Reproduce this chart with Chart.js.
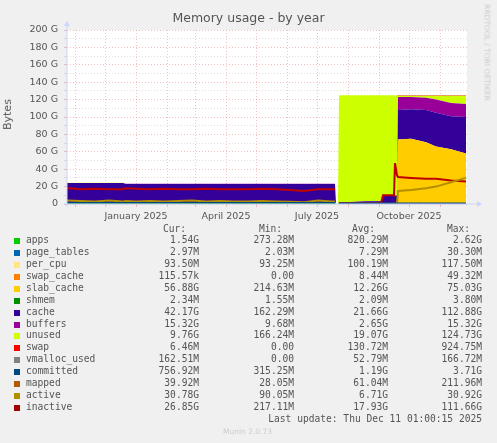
<!DOCTYPE html>
<html>
<head>
<meta charset="utf-8">
<script src="https://cdn.jsdelivr.net/npm/chart.js@4"></script>
<style>
  body { margin: 0; background: #f0f0f0; width: 497px; height: 443px; overflow: hidden; position: relative; font-family: "DejaVu Sans", sans-serif; }
  #wrap { position: absolute; left: 0; top: 1px; width: 497px; height: 226px; }
  .abs { position: absolute; white-space: pre; }
  .mono { font-family: "DejaVu Sans Mono", monospace; font-size: 9.6px; color: #555; }
  .sw { position: absolute; width: 6px; height: 6px; }
</style>
</head>
<body>
<div id="wrap"><canvas id="memChart" width="497" height="226"></canvas></div>
<div class="abs" style="left:0;width:497px;text-align:center;top:10px;font-size:12.5px;color:#555;">Memory usage - by year</div>
<div class="abs" style="left:-8px;top:108px;font-size:11px;color:#555;transform:rotate(-90deg);">Bytes</div>
<div id="rrd" class="abs" style="top:48px;font-size:7.5px;color:#ccc;transform:translateX(-50%) rotate(90deg);left:487px;">RRDTOOL / TOBI OETIKER</div>
<div id="legend"></div>
<script>
// x positions in days relative to 2025-01-01
const days = [-69,-55,-41,-27,-13,-10,0,14,28,42,56,70,84,98,112,126,140,154,168,182,196,199,200,202,203,215,230,245,247,258,259,261,262,275,290,300,315,330];

// stacked areas (GB)
const apps      = [1.5,1.5,1.5,1.5,1.5,1.5,1.5,1.5,1.5,1.5,1.5,1.5,1.5,1.5,1.5,1.5,1.5,1.5,1.5,1.5,1.5,1.5, 0,0, 0.5,0.5,0.5,0.5,0.5,0.5,0.5,0.5, 1,1,1,1,1,1];
const slabCache = [0.5,0.5,0.5,0.5,0.5,0.5,0.5,0.5,0.5,0.5,0.5,0.5,0.5,0.5,0.5,0.5,0.5,0.5,0.5,0.5,0.5,0.5, 0,0, 0.3,0.3,0.3,0.3,0.3,0.3,0.3,0.3, 73,74,70,65,62,57];
const cache     = [22,22,22,22,22,21,21,21,21,21,21,21,21,21,21,21,21,21,21,21,21,21, 0,0, 1,1.5,2.5,2.5,9,9,9,9, 34,34,37,39,38,42];
const buffers   = [0.2,0.2,0.2,0.2,0.2,0.2,0.2,0.2,0.2,0.2,0.2,0.2,0.2,0.2,0.2,0.2,0.2,0.2,0.2,0.2,0.2,0.2, 0,0, 0.1,0.1,0.1,0.1,0.1,0.1,0.1,0.1, 15,14,14,15,15,15];
const unused    = [0.2,0.2,0.2,0.2,0.2,0.2,0.2,0.2,0.2,0.2,0.2,0.2,0.2,0.2,0.2,0.2,0.2,0.2,0.2,0.2,0.2,0.2, 0,0, 123,122.6,121.6,121.6,115,115,115,115, 1.5,1.5,2.5,4.5,8.5,9.5];
const swap      = [0,0,0,0,0,0,0,0,0,0,0,0,0,0,0,0,0,0,0,0,0,0, 0,0, 0,0,0,0,0,0,0,0, 0.6,0.6,0.6,0.6,0.6,0.6];

// lines (GB)
const committed = [1.5,1.5,1.5,1.5,1.5,1.5,1.5,1.5,1.5,1.5,1.5,1.5,1.5,1.5,1.5,1.5,1.5,1.5,1.5,1.5,1.5,1.5, null,null, 0.8,0.8,0.8,0.8,0.8,0.8,0.8,0.8, 0.8,0.8,0.8,0.8,0.8,0.8];
const active    = [4,3.5,3,4,3,3.5,3,3.5,3,3.5,4,3,3.5,3,3,3.5,3,2.5,2,4,3,3, null,null, 0.3,0.3,0.3,0.3,0.3,0.3,0.5,0.5, 15,16,18,20,25,30];
const inactive  = [18,17,17.5,17,17,18,17.5,17,17.5,17,17,17.5,17,17,17,17.5,17,16,15,17,17,17, null,null, 1,1,1,1,10,10,47,33, 31,30,29,29,27,26];

// axis ticks
const monthTicks = [-61,-31,0,31,59,90,120,151,181,212,243,273,304];
const quarterLabels = { 0: 'January 2025', 90: 'April 2025', 181: 'July 2025', 273: 'October 2025' };

// legend table
const legendNames  = ['apps','page_tables','per_cpu','swap_cache','slab_cache','shmem','cache','buffers','unused','swap','vmalloc_used','committed','mapped','active','inactive'];
const legendColors = ['#00cc00','#0066b3','#ffe680','#ff8000','#ffcc00','#008f00','#330099','#990099','#ccff00','#ff0000','#808080','#00487d','#b35a00','#b38f00','#a00000'];
const legendCur = ['1.54G','2.97M','93.50M','115.57k','56.88G','2.34M','42.17G','15.32G','9.76G','6.46M','162.51M','756.92M','39.92M','30.78G','26.85G'];
const legendMin = ['273.28M','2.03M','93.25M','0.00','214.63M','1.55M','162.29M','9.68M','166.24M','0.00','0.00','315.25M','28.05M','90.05M','217.11M'];
const legendAvg = ['820.29M','7.29M','100.19M','8.44M','12.26G','2.09M','21.66G','2.65G','19.07G','130.72M','52.79M','1.19G','61.04M','6.71G','17.93G'];
const legendMax = ['2.62G','30.30M','117.50M','49.32M','75.03G','3.80M','112.88G','15.32G','124.73G','924.75M','166.72M','3.71G','211.96M','30.92G','111.66G'];

const toPts = (arr) => arr.map((v, i) => ({ x: days[i], y: v }));

const area = (label, arr, color, first) => ({
    label, data: toPts(arr), backgroundColor: color, borderColor: color, order: 10,
    borderWidth: 0, pointRadius: 0, fill: first ? 'origin' : '-1', stack: 'mem', tension: 0
});
const line = (label, arr, color, width) => ({
    label, data: toPts(arr), borderColor: color, backgroundColor: color, order: 0,
    borderWidth: width, pointRadius: 0, fill: false, stack: label, spanGaps: false, tension: 0
});

const plotBg = {
    id: 'plotBg',
    beforeDraw(chart) {
        const { ctx, chartArea: a } = chart;
        ctx.save();
        ctx.fillStyle = '#ffffff';
        ctx.fillRect(a.left, a.top, a.right - a.left, a.bottom - a.top);
        ctx.restore();
    },
    afterDraw(chart) {
        const { ctx, chartArea: a } = chart;
        ctx.save();
        ctx.strokeStyle = '#ccd4ff';
        ctx.fillStyle = '#ccd4ff';
        ctx.beginPath();
        ctx.moveTo(a.left, a.bottom + 3); ctx.lineTo(a.left, a.top - 6);
        ctx.moveTo(a.left - 3, a.bottom); ctx.lineTo(a.right + 12, a.bottom);
        ctx.stroke();
        ctx.beginPath();
        ctx.moveTo(a.left - 3, a.top - 4); ctx.lineTo(a.left + 3, a.top - 4); ctx.lineTo(a.left, a.top - 9); ctx.fill();
        ctx.beginPath();
        ctx.moveTo(a.right + 10, a.bottom - 3); ctx.lineTo(a.right + 10, a.bottom + 3); ctx.lineTo(a.right + 15, a.bottom); ctx.fill();
        ctx.restore();
    }
};

new Chart(document.getElementById('memChart'), {
    type: 'line',
    data: {
        datasets: [
            area('apps', apps, '#00cc00', true),
            area('slab_cache', slabCache, '#ffcc00'),
            area('cache', cache, '#330099'),
            area('buffers', buffers, '#990099'),
            area('unused', unused, '#ccff00'),
            area('swap', swap, '#dd0000'),
            line('committed', committed, '#00487d', 1.5),
            line('active', active, '#b38f00', 2),
            line('inactive', inactive, '#c00000', 2)
        ]
    },
    options: {
        responsive: false,
        animation: false,
        layout: { padding: { top: 29, right: 30, left: 0, bottom: 0 } },
        plugins: { legend: { display: false }, tooltip: { enabled: false } },
        scales: {
            x: {
                type: 'linear', min: -69, max: 331,
                afterBuildTicks: (axis) => { axis.ticks = monthTicks.map(v => ({ value: v })); },
                afterFit: (axis) => { axis.height = 23; },
                ticks: {
                    autoSkip: false, maxRotation: 0, padding: 4,
                    color: '#555', font: { family: 'DejaVu Sans', size: 9.5 },
                    callback: (v) => quarterLabels[v] || ''
                },
                grid: {
                    color: 'rgba(230,120,120,0.55)', lineWidth: 0.8,
                    tickLength: 3, drawTicks: true
                },
                border: { display: false, dash: [1, 2] }
            },
            y: {
                stacked: true, min: 0, max: 200,
                afterFit: (axis) => { axis.width = 67; },
                ticks: {
                    stepSize: 10, autoSkip: false, padding: 6,
                    color: '#555', font: { family: 'DejaVu Sans', size: 9.5 },
                    callback: (v) => v % 20 !== 0 ? '' : (v === 0 ? '0' : v + ' G')
                },
                grid: {
                    color: (c) => c.tick.value % 20 === 0 ? 'rgba(230,120,120,0.6)' : 'rgba(190,190,190,0.6)',
                    lineWidth: 0.8, tickLength: 3
                },
                border: { display: false, dash: [1, 2] }
            }
        }
    },
    plugins: [plotBg]
});

// legend below the chart
const legend = document.getElementById('legend');
let html = '';
const right = (text, r, top) => `<div class="abs mono" style="right:${497 - r}px;top:${top}px;">${text}</div>`;
html += right('Cur:', 186, 223) + right('Min:', 282, 223) + right('Avg:', 375, 223) + right('Max:', 470, 223);
legendNames.forEach((name, i) => {
    const top = 234 + i * 11.93;
    html += `<div class="sw" style="left:14px;top:${top + 4}px;background:${legendColors[i]};"></div>`;
    html += `<div class="abs mono" style="left:26px;top:${top}px;">${name}</div>`;
    html += right(legendCur[i], 199, top) + right(legendMin[i], 294, top) + right(legendAvg[i], 388, top) + right(legendMax[i], 482, top);
});
html += right('Last update: Thu Dec 11 01:00:15 2025', 482, 413);
html += `<div class="abs" style="left:223px;top:427px;font-size:7.5px;color:#ccc;">Munin 2.0.73</div>`;
legend.innerHTML = html;
</script>
</body>
</html>
